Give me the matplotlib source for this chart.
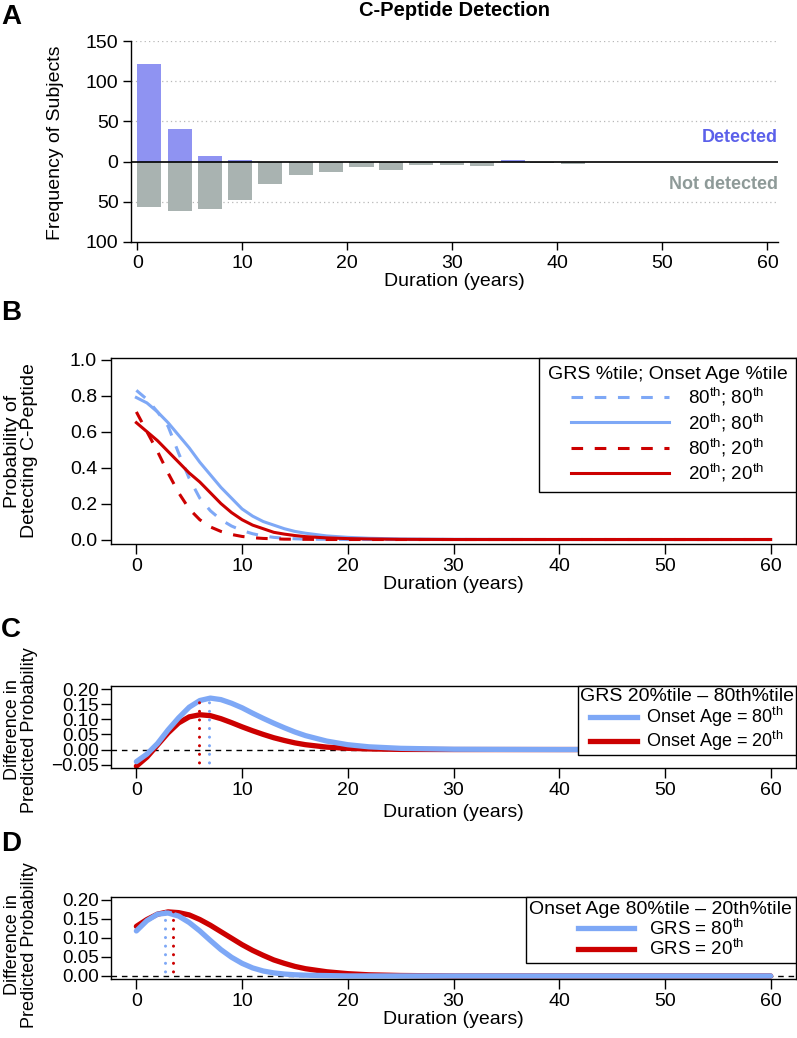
import numpy as np
import matplotlib
matplotlib.use("Agg")
from matplotlib import pyplot as plt
from matplotlib.lines import Line2D

FONT = ['Liberation Sans', 'DejaVu Sans']
plt.rcParams['font.family'] = FONT
plt.rcParams['mathtext.fontset'] = 'custom'
plt.rcParams['mathtext.rm'] = 'Liberation Sans'
plt.rcParams['axes.linewidth'] = 1.0

BLUE = '#7ea8f6'
RED = '#cc0000'
DET = '#8f93f2'
NDET = '#a9b3b1'

# ---- panel A data: histogram of subjects by duration bin
bin_left = [0, 2.9, 5.8, 8.6, 11.5, 14.4, 17.3, 20.2, 23.0, 25.9, 28.8, 31.7, 34.6, 37.4, 40.3]
detected = [121, 40, 7, 2, 0, 0, 0, 0, 0, 0, 0, 0, 2, 0, 0]
not_detected = [57, 62, 59, 48, 28, 17, 13, 7, 11, 4, 4, 5, 0, 2, 3]

# ---- panel B data: predicted probability of detecting C-peptide
dur = [0, 1, 2, 3, 4, 5, 6, 7, 8, 9, 10, 11, 12, 13, 14, 15, 16, 18, 20, 22, 25, 30, 40, 50, 60]
p_80_80 = [0.83, 0.78, 0.71, 0.63, 0.48, 0.34, 0.23, 0.16, 0.11, 0.075, 0.05, 0.032, 0.02, 0.012, 0.007,
           0.004, 0.002, 0.001, 0, 0, 0, 0, 0, 0, 0]
p_20_80 = [0.79, 0.76, 0.71, 0.65, 0.58, 0.51, 0.43, 0.36, 0.29, 0.23, 0.17, 0.13, 0.10, 0.08, 0.06,
           0.045, 0.035, 0.02, 0.012, 0.007, 0.003, 0.001, 0, 0, 0]
p_80_20 = [0.71, 0.60, 0.49, 0.37, 0.26, 0.17, 0.11, 0.07, 0.045, 0.028, 0.017, 0.01, 0.006, 0.004, 0.002,
           0.0015, 0.001, 0, 0, 0, 0, 0, 0, 0, 0]
p_20_20 = [0.65, 0.60, 0.55, 0.49, 0.43, 0.37, 0.32, 0.26, 0.20, 0.15, 0.11, 0.08, 0.06, 0.04, 0.03,
           0.022, 0.016, 0.009, 0.005, 0.003, 0.001, 0, 0, 0, 0]

# ---- panel C data: GRS 20%tile - 80%tile difference
c_age80 = [-0.04, -0.015, 0.02, 0.065, 0.105, 0.14, 0.162, 0.17, 0.165, 0.153, 0.138, 0.12, 0.103, 0.087,
           0.072, 0.058, 0.046, 0.028, 0.016, 0.009, 0.004, 0.001, 0, 0, 0]
c_age20 = [-0.055, -0.025, 0.015, 0.055, 0.088, 0.108, 0.115, 0.112, 0.102, 0.089, 0.075, 0.062, 0.05, 0.039,
           0.03, 0.022, 0.016, 0.008, 0.004, 0.002, 0.0005, 0, 0, 0, 0]
c_peak = [6.9, 5.9]

# ---- panel D data: onset age 80%tile - 20%tile difference
d_grs80 = [0.118, 0.145, 0.162, 0.165, 0.157, 0.14, 0.118, 0.093, 0.069, 0.049, 0.033, 0.021, 0.013, 0.008,
           0.005, 0.003, 0.002, 0.001, 0, 0, 0, 0, 0, 0, 0]
d_grs20 = [0.13, 0.148, 0.162, 0.168, 0.166, 0.16, 0.148, 0.133, 0.116, 0.099, 0.082, 0.067, 0.054, 0.042,
           0.033, 0.025, 0.019, 0.011, 0.006, 0.003, 0.0012, 0, 0, 0, 0]
d_peak = [2.75, 3.45]

W, H = 797, 1038
fig = plt.figure(figsize=(W / 100, H / 100), dpi=100)


def box(l, t, r, b):
    return [l / W, 1 - b / H, (r - l) / W, (b - t) / H]


def ylab(x, y, s, fs=14):
    fig.text(x / W, 1 - y / H, s, rotation=90, ha='center', va='center', fontsize=fs,
             linespacing=1.05)


TICK = 14
LAB = 14
DASH = (0, (3.8, 3.8))
DOT = (0, (0.01, 2.8))

# ================= A
axA = fig.add_axes(box(131, 41, 778, 242))
axA.bar(bin_left, detected, width=2.3, align='edge', color=DET, zorder=2)
axA.bar(bin_left, [-v for v in not_detected], width=2.3, align='edge', color=NDET, zorder=2)
for g in [150, 100, 50, -50]:
    axA.axhline(g, color='#b8b8b8', lw=0.9, ls=(0, (1, 2.5)), zorder=1)
axA.axhline(0, color='black', lw=1.2, zorder=3)
axA.set_xlim(-0.6, 61)
axA.set_ylim(-100, 150)
axA.set_yticks([-100, -50, 0, 50, 100, 150])
axA.set_yticklabels(['100', '50', '0', '50', '100', '150'])
axA.set_xticks(range(0, 61, 10))
axA.spines['top'].set_visible(False)
axA.spines['right'].set_visible(False)
axA.tick_params(labelsize=TICK, length=6, width=1, pad=3)
axA.set_xlabel('Duration (years)', fontsize=LAB, labelpad=1)
axA.set_title('C-Peptide Detection', fontsize=14.5, fontweight='bold', pad=18)
axA.text(61, 30, 'Detected', color='#5b60ea', fontsize=13, fontweight='bold', ha='right', va='center')
axA.text(61, -28, 'Not detected', color='#8e9a98', fontsize=13, fontweight='bold', ha='right', va='center')
ylab(56, 143, 'Frequency of Subjects')


def r_axes(ax, lp=1):
    ax.set_xlim(-2.4, 62.4)
    ax.set_xticks(range(0, 61, 10))
    ax.tick_params(labelsize=TICK, length=7, width=1, pad=3)
    ax.set_xlabel('Duration (years)', fontsize=LAB, labelpad=lp)


def leg(ax, handles, labels, title, fs, tfs, **kw):
    lg = ax.legend(handles, labels, title=title, loc='upper right', borderaxespad=0, fontsize=fs,
                   title_fontsize=tfs, fancybox=False, edgecolor='black', framealpha=1, **kw)
    lg.get_frame().set_linewidth(1.0)
    return lg


# ================= B
axB = fig.add_axes(box(111, 358, 796, 544))
axB.plot(dur, p_80_80, color=BLUE, lw=2.2, ls=DASH)
axB.plot(dur, p_20_80, color=BLUE, lw=2.2)
axB.plot(dur, p_80_20, color=RED, lw=2.2, ls=DASH)
axB.plot(dur, p_20_20, color=RED, lw=2.2)
axB.set_ylim(-0.025, 1.01)
axB.set_yticks([0, 0.2, 0.4, 0.6, 0.8, 1.0])
axB.set_yticklabels(['0.0', '0.2', '0.4', '0.6', '0.8', '1.0'])
r_axes(axB)
ylab(21, 451, 'Probability of\nDetecting C-Peptide')
hB = [Line2D([], [], color=BLUE, lw=2.2, ls=DASH),
      Line2D([], [], color=BLUE, lw=2.2),
      Line2D([], [], color=RED, lw=2.2, ls=DASH),
      Line2D([], [], color=RED, lw=2.2)]
lB = [r'80$^{\rm th}$; 80$^{\rm th}$', r'20$^{\rm th}$; 80$^{\rm th}$',
      r'80$^{\rm th}$; 20$^{\rm th}$', r'20$^{\rm th}$; 20$^{\rm th}$']
leg(axB, hB, lB, 'GRS %tile; Onset Age %tile', 13.5, 14, handlelength=5.2, labelspacing=0.12,
    borderpad=0.45, handletextpad=1.0)

# ================= C
axC = fig.add_axes(box(111, 686, 796, 768))
axC.axhline(0, color='black', lw=1.0, ls=(0, (4, 3.5)))
axC.plot(dur, c_age20, color=RED, lw=3.8, solid_capstyle='round')
axC.plot(dur, c_age80, color=BLUE, lw=3.8, solid_capstyle='round')
axC.plot([c_peak[1]] * 2, [-0.07, 0.18], color=RED, lw=2.2, ls=DOT, dash_capstyle='round')
axC.plot([c_peak[0]] * 2, [-0.07, 0.18], color=BLUE, lw=2.2, ls=DOT, dash_capstyle='round')
axC.set_ylim(-0.061, 0.21)
axC.set_yticks([-0.05, 0, 0.05, 0.10, 0.15, 0.20])
axC.set_yticklabels(['\u22120.05', '0.00', '0.05', '0.10', '0.15', '0.20'])
r_axes(axC, lp=4)
axC.tick_params(axis='y', labelsize=13.5, pad=2)
ylab(21, 730, 'Difference in\nPredicted Probability', fs=13)
hC = [Line2D([], [], color=BLUE, lw=3.8), Line2D([], [], color=RED, lw=3.8)]
leg(axC, hC, [r'Onset Age = 80$^{\rm th}$', r'Onset Age = 20$^{\rm th}$'], 'GRS 20%tile \u2013 80th%tile',
    13, 14, handlelength=2.6, labelspacing=0.0, borderpad=0.1, handletextpad=0.5)

# ================= D
axD = fig.add_axes(box(111, 897, 796, 979))
axD.axhline(0, color='black', lw=1.0, ls=(0, (4, 3.5)))
axD.plot(dur, d_grs20, color=RED, lw=3.8, solid_capstyle='round')
axD.plot(dur, d_grs80, color=BLUE, lw=3.8, solid_capstyle='round')
axD.plot([d_peak[0]] * 2, [-0.01, 0.185], color=BLUE, lw=2.2, ls=DOT, dash_capstyle='round')
axD.plot([d_peak[1]] * 2, [-0.01, 0.185], color=RED, lw=2.2, ls=DOT, dash_capstyle='round')
axD.set_ylim(-0.008, 0.207)
axD.set_yticks([0, 0.05, 0.10, 0.15, 0.20])
axD.set_yticklabels(['0.00', '0.05', '0.10', '0.15', '0.20'])
r_axes(axD)
axD.tick_params(axis='y', labelsize=13.5, pad=2)
ylab(21, 945, 'Difference in\nPredicted Probability', fs=13)
hD = [Line2D([], [], color=BLUE, lw=3.8), Line2D([], [], color=RED, lw=3.8)]
leg(axD, hD, [r'GRS = 80$^{\rm th}$', r'GRS = 20$^{\rm th}$'], 'Onset Age 80%tile \u2013 20th%tile',
    13.5, 14, handlelength=3.0, labelspacing=0.0, borderpad=0.2, handletextpad=0.8)

# panel letters
for letter, y in [('A', 17), ('B', 313), ('C', 630), ('D', 844)]:
    fig.text(1 / W, 1 - y / H, letter, fontsize=20, fontweight='bold', va='center', ha='left')

fig.savefig('out.png', dpi=100)
